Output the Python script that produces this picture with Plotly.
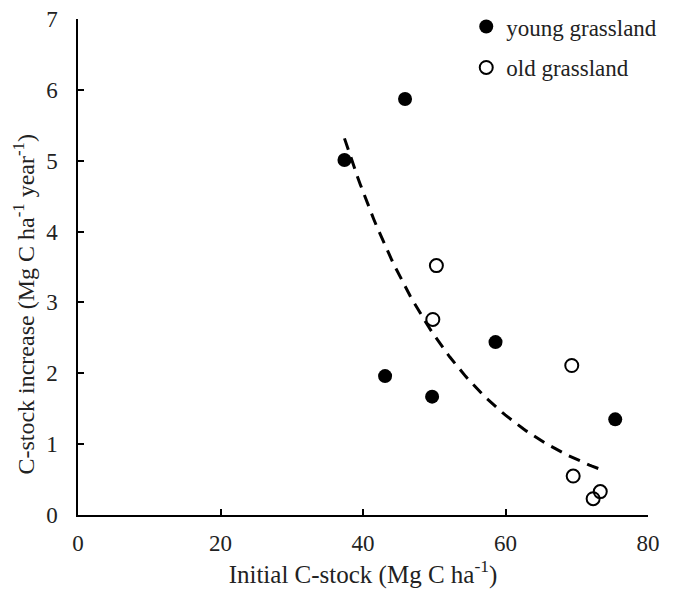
import numpy as np
import plotly.graph_objects as go

young_x = [37.4, 45.9, 43.1, 49.7, 58.6, 75.4]
young_y = [5.01, 5.87, 1.96, 1.67, 2.44, 1.35]
old_x = [50.3, 49.8, 69.3, 69.5, 73.3, 72.3]
old_y = [3.52, 2.76, 2.11, 0.55, 0.33, 0.23]

x_ticks = [0, 20, 40, 60, 80]
y_ticks = [0, 1, 2, 3, 4, 5, 6, 7]

# exponential trendline (log-linear least squares over all points)
all_x = np.array(young_x + old_x)
all_y = np.array(young_y + old_y)
b, ln_a = np.polyfit(all_x, np.log(all_y), 1)
fx = np.linspace(all_x.min(), 74.0, 100)
fy = np.exp(ln_a) * np.exp(b * fx)

font = "Liberation Serif, Times New Roman, serif"

fig = go.Figure()
fig.add_trace(go.Scatter(x=fx, y=fy, mode="lines", showlegend=False,
                         line=dict(color="black", width=3, dash="12px,8px")))
fig.add_trace(go.Scatter(x=young_x, y=young_y, mode="markers", name="young grassland",
                         legendgroup="a",
                         marker=dict(symbol="circle", size=14, color="black")))
fig.add_trace(go.Scatter(x=old_x, y=old_y, mode="markers", name="old grassland",
                         legendgroup="b",
                         marker=dict(symbol="circle-open", size=13, color="black",
                                     line=dict(width=2, color="black"))))

fig.update_layout(
    width=675, height=589,
    margin=dict(l=70, r=35, t=11, b=82, autoexpand=False),
    plot_bgcolor="white", paper_bgcolor="white",
    font=dict(family=font, size=23, color="#222"),
    legend=dict(x=1.025, y=1.028, xanchor="right", yanchor="top",
                font=dict(size=23), tracegroupgap=8,
                traceorder="grouped", itemwidth=30,
                bgcolor="rgba(0,0,0,0)"),
    xaxis=dict(range=[0, 80], tickvals=x_ticks, ticks="inside", ticklen=6,
               tickwidth=1.5, tickcolor="black", showline=True, linecolor="black",
               linewidth=1.5, showgrid=False, zeroline=False, automargin=False,
               ticklabeloverflow="allow",
               title=dict(text="Initial C-stock (Mg C ha<sup>-1</sup>)",
                          font=dict(size=25), standoff=6)),
    yaxis=dict(range=[0, 7], tickvals=y_ticks, ticks="inside", ticklen=6,
               tickwidth=1.5, tickcolor="black", showline=True, linecolor="black",
               linewidth=1.5, showgrid=False, zeroline=False, automargin=False,
               ticklabeloverflow="allow"),
    annotations=[dict(text="C-stock increase (Mg C ha<sup>-1</sup> year<sup>-1</sup>)",
                      xref="paper", yref="paper", x=-0.094, y=0.425,
                      xanchor="center", yanchor="middle", textangle=-90,
                      showarrow=False, font=dict(size=24))],
)
fig.update_xaxes(ticklabelstandoff=7)
fig.update_yaxes(ticklabelstandoff=14)

fig.write_html("out.html")
